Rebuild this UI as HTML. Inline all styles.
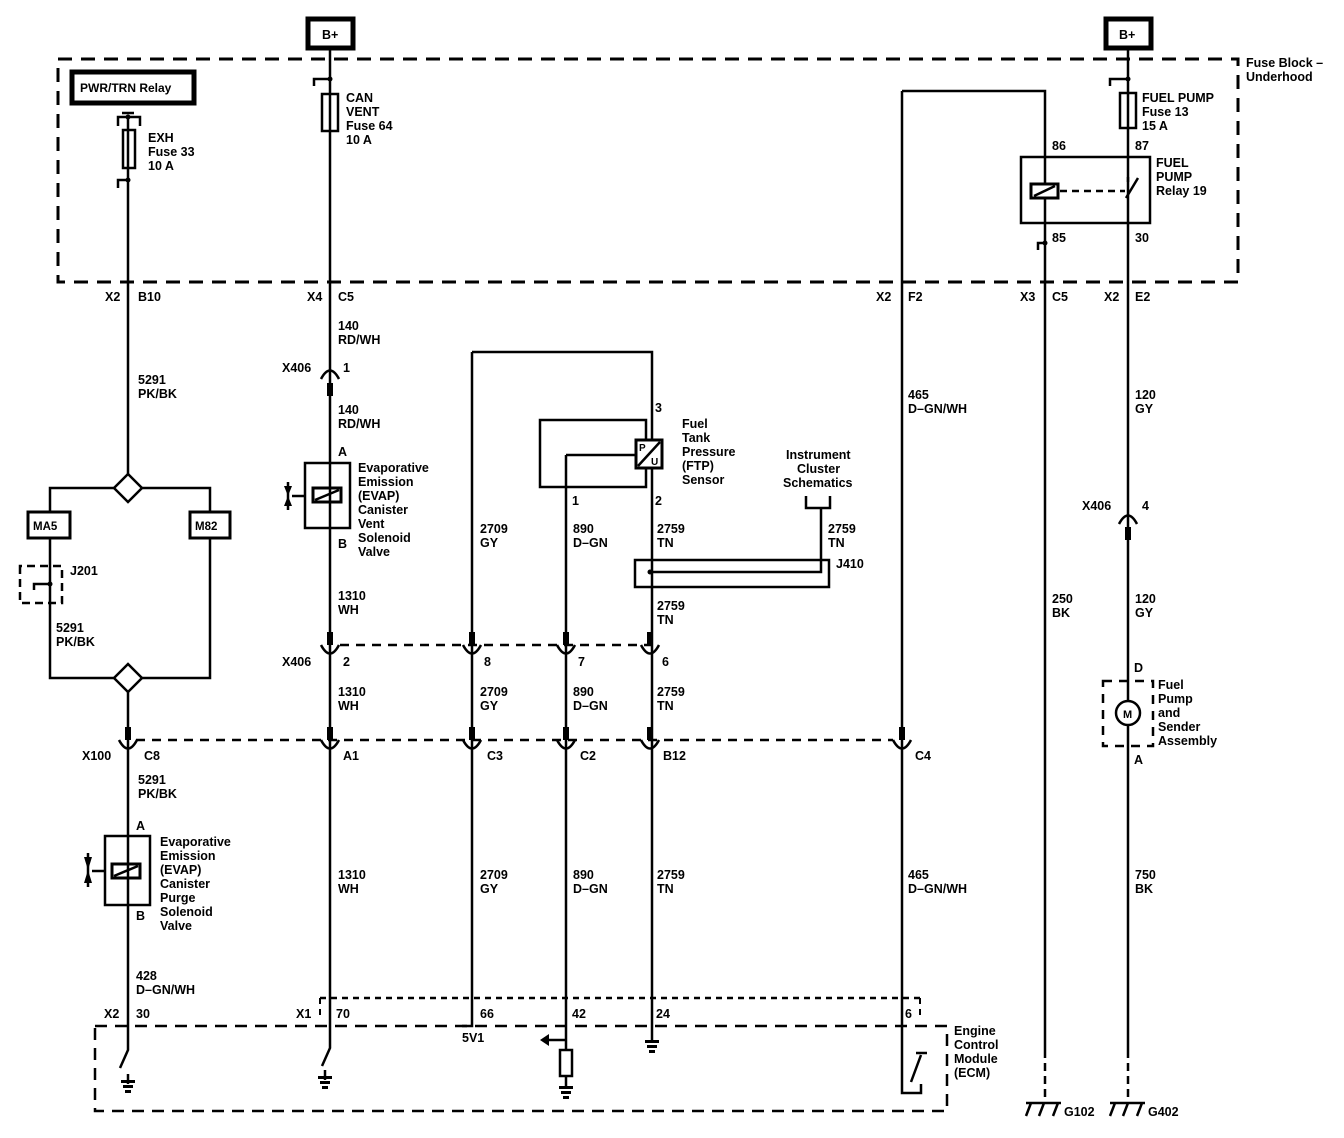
<!DOCTYPE html>
<html><head><meta charset="utf-8"><style>
html,body{margin:0;padding:0;background:#fff}
svg{display:block}
text{font-family:"Liberation Sans",sans-serif;font-size:12.5px;font-weight:bold;fill:#000}
</style></head><body>
<svg width="1344" height="1138" viewBox="0 0 1344 1138" xmlns="http://www.w3.org/2000/svg">
<g fill="none" stroke="#000" stroke-width="2.5">
<path d="M58 59 H1238 V282 H58 Z" stroke-dasharray="14,9" stroke-width="3"/>
<path d="M95 1026 H947 V1111 H95 Z" stroke-dasharray="12,8" stroke-width="2.5"/>
<path d="M320 998 H920" stroke-dasharray="6,5" stroke-width="2.5"/>
<path d="M320 998 V1020 M920 998 V1020" stroke-dasharray="6,5" stroke-width="2"/>
<path d="M340 645 H655" stroke-dasharray="9,7"/>
<path d="M136 740 H893" stroke-dasharray="9,7"/>
</g>
<rect x="308" y="19" width="45" height="29" fill="#fff" stroke="#000" stroke-width="5"/>
<text x="322" y="39">B+</text>
<rect x="1106" y="19" width="45" height="29" fill="#fff" stroke="#000" stroke-width="5"/>
<text x="1119" y="39">B+</text>
<rect x="72" y="72" width="122" height="31" fill="#fff" stroke="#000" stroke-width="5"/>
<text x="80" y="92" style="font-size:12px">PWR/TRN Relay</text>
<g fill="none" stroke="#000" stroke-width="2.5">
<path d="M128 117 V474 M128 692 V1050 L120 1068"/>
<path d="M128 1074 V1084"/>
<path d="M330 48 V1048 L322 1066"/>
<path d="M325 1070 V1080"/>
<path d="M472 352 V1026 H462 M472 352 H652 V1040"/>
<path d="M566 455 H636 M566 455 V1050 M566 1076 V1086"/>
<path d="M902 91 H1045 V1050 M902 91 V1093 H921 V1084"/>
<path d="M911 1082 L921 1055 M916 1053 H927"/>
<path d="M1045 1050 V1100" stroke-dasharray="8,5"/>
<path d="M1128 48 V1050"/>
<path d="M1128 1050 V1100" stroke-dasharray="8,5"/>
<rect x="123" y="130" width="12" height="38"/>
<path d="M118 126 V117 H140 V126 M122 113 H134"/>
<path d="M118 188 V180 H128"/>
<rect x="322" y="94" width="16" height="37"/>
<path d="M314 86 V79 H330"/>
<rect x="1120" y="93" width="16" height="35"/>
<path d="M1110 86 V79 H1128"/>
<rect x="1021" y="157" width="129" height="66"/>
<path d="M1038 250 V243 H1045"/>
<path d="M1060 191 H1125" stroke-dasharray="7,5"/>
<path d="M1128 177 V182 M1126 198 L1138 178"/>
<rect x="1031" y="184" width="27" height="14" fill="#fff" stroke-width="3"/>
<path d="M1034 196 L1055 186"/>
<path d="M128 474 L142 488 L128 502 L114 488 Z"/>
<path d="M128 664 L142 678 L128 692 L114 678 Z"/>
<path d="M114 488 H50 V678 H114 M142 488 H210 V678 H142"/>
<rect x="28" y="512" width="42" height="26" fill="#fff" stroke-width="3"/>
<rect x="190" y="512" width="40" height="26" fill="#fff" stroke-width="3"/>
<path d="M20 566 V603 H62 V566 Z" stroke-dasharray="8,5"/>
<path d="M34 590 V584 H50"/>
<rect x="540" y="420" width="106" height="67"/>
<rect x="636" y="440" width="26" height="28" fill="#fff" stroke-width="3"/>
<path d="M638 466 L660 442"/>
<rect x="635" y="560" width="194" height="27"/>
<path d="M650 572 H821 V508 M806 496 V508 H830 V496"/>
<rect x="305" y="463" width="45" height="65"/>
<rect x="313" y="488" width="28" height="14" stroke-width="3"/>
<path d="M315 500 L339 490"/>
<path d="M288 482 V510 M292 496 H305"/>
<rect x="105" y="836" width="45" height="69"/>
<rect x="112" y="864" width="28" height="14" stroke-width="3"/>
<path d="M114 876 L138 866"/>
<path d="M88 853 V887 M92 871 H105"/>
<path d="M1103 681 H1153 V746 H1103 Z" stroke-dasharray="9,7"/>
<circle cx="1128" cy="713" r="12" fill="#fff" stroke-width="2.5"/>
<rect x="560" y="1050" width="12" height="26"/>
<path d="M566 1040 H548"/>
<path d="M1026 1103 H1061 M1031 1103 L1026 1116 M1044 1103 L1039 1116 M1058 1103 L1053 1116"/>
<path d="M1110 1103 H1145 M1115 1103 L1110 1116 M1128 1103 L1123 1116 M1142 1103 L1137 1116"/>
</g>
<g fill="#000">
<polygon points="284,486 292,486 288,496"/><polygon points="284,506 292,506 288,496"/>
<polygon points="84,857 92,857 88,870"/><polygon points="84,883 92,883 88,870"/>
<polygon points="540,1040 549,1034 549,1046"/>
<circle cx="128" cy="180" r="2.5"/><circle cx="330" cy="79" r="2.5"/><circle cx="1128" cy="79" r="2.5"/><circle cx="1045" cy="243" r="2.5"/><circle cx="50" cy="584" r="2.5"/><circle cx="650" cy="572" r="2.5"/><circle cx="128" cy="117" r="2.5"/>
<rect x="121" y="1080" width="14" height="3"/><rect x="123" y="1085" width="10" height="3"/><rect x="125" y="1090" width="6" height="3"/>
<rect x="318" y="1076" width="14" height="3"/><rect x="320" y="1081" width="10" height="3"/><rect x="322" y="1086" width="6" height="3"/>
<rect x="559" y="1086" width="14" height="3"/><rect x="561" y="1091" width="10" height="3"/><rect x="563" y="1096" width="6" height="3"/>
<rect x="645" y="1040" width="14" height="3"/><rect x="647" y="1045" width="10" height="3"/><rect x="649" y="1050" width="6" height="3"/>
<rect x="327" y="383" width="6" height="13"/><rect x="1125" y="527" width="6" height="13"/>
<rect x="327" y="632" width="6" height="13"/><rect x="469" y="632" width="6" height="13"/><rect x="563" y="632" width="6" height="13"/><rect x="647" y="632" width="6" height="13"/>
<rect x="125" y="727" width="6" height="13"/><rect x="327" y="727" width="6" height="13"/><rect x="469" y="727" width="6" height="13"/><rect x="563" y="727" width="6" height="13"/><rect x="647" y="727" width="6" height="13"/><rect x="899" y="727" width="6" height="13"/>
</g>
<g fill="none" stroke="#000" stroke-width="2.5">
<path d="M321 379 Q330 362 339 379"/><path d="M1119 524 Q1128 507 1137 524"/>
<path d="M321 645 Q330 662 339 645"/><path d="M463 645 Q472 662 481 645"/><path d="M557 645 Q566 662 575 645"/><path d="M641 645 Q650 662 659 645"/>
<path d="M119 740 Q128 757 137 740"/><path d="M321 740 Q330 757 339 740"/><path d="M463 740 Q472 757 481 740"/><path d="M557 740 Q566 757 575 740"/><path d="M641 740 Q650 757 659 740"/><path d="M893 740 Q902 757 911 740"/>
</g>
<text x="148" y="142">EXH</text><text x="148" y="156">Fuse 33</text><text x="148" y="170">10 A</text>
<text x="346" y="102">CAN</text><text x="346" y="116">VENT</text><text x="346" y="130">Fuse 64</text><text x="346" y="144">10 A</text>
<text x="1142" y="102">FUEL PUMP</text><text x="1142" y="116">Fuse 13</text><text x="1142" y="130">15 A</text>
<text x="1052" y="150">86</text><text x="1135" y="150">87</text><text x="1052" y="242">85</text><text x="1135" y="242">30</text>
<text x="1156" y="167">FUEL</text><text x="1156" y="181">PUMP</text><text x="1156" y="195">Relay 19</text>
<text x="1246" y="67">Fuse Block –</text><text x="1246" y="81">Underhood</text>
<text x="105" y="301">X2</text><text x="138" y="301">B10</text>
<text x="307" y="301">X4</text><text x="338" y="301">C5</text>
<text x="876" y="301">X2</text><text x="908" y="301">F2</text>
<text x="1020" y="301">X3</text><text x="1052" y="301">C5</text>
<text x="1104" y="301">X2</text><text x="1135" y="301">E2</text>
<text x="338" y="330">140</text><text x="338" y="344">RD/WH</text>
<text x="282" y="372">X406</text><text x="343" y="372">1</text>
<text x="338" y="414">140</text><text x="338" y="428">RD/WH</text>
<text x="338" y="456">A</text><text x="338" y="548">B</text>
<text x="358" y="472">Evaporative</text><text x="358" y="486">Emission</text><text x="358" y="500">(EVAP)</text><text x="358" y="514">Canister</text><text x="358" y="528">Vent</text><text x="358" y="542">Solenoid</text><text x="358" y="556">Valve</text>
<text x="138" y="384">5291</text><text x="138" y="398">PK/BK</text>
<text x="33" y="530" style="font-size:11.5px">MA5</text><text x="195" y="530" style="font-size:11.5px">M82</text>
<text x="70" y="575">J201</text>
<text x="56" y="632">5291</text><text x="56" y="646">PK/BK</text>
<text x="338" y="600">1310</text><text x="338" y="614">WH</text>
<text x="282" y="666">X406</text><text x="343" y="666">2</text>
<text x="484" y="666">8</text><text x="578" y="666">7</text><text x="662" y="666">6</text>
<text x="338" y="696">1310</text><text x="338" y="710">WH</text>
<text x="480" y="696">2709</text><text x="480" y="710">GY</text>
<text x="573" y="696">890</text><text x="573" y="710">D–GN</text>
<text x="657" y="696">2759</text><text x="657" y="710">TN</text>
<text x="82" y="760">X100</text><text x="144" y="760">C8</text>
<text x="343" y="760">A1</text><text x="487" y="760">C3</text><text x="580" y="760">C2</text><text x="663" y="760">B12</text><text x="915" y="760">C4</text>
<text x="138" y="784">5291</text><text x="138" y="798">PK/BK</text>
<text x="136" y="830">A</text><text x="136" y="920">B</text>
<text x="160" y="846">Evaporative</text><text x="160" y="860">Emission</text><text x="160" y="874">(EVAP)</text><text x="160" y="888">Canister</text><text x="160" y="902">Purge</text><text x="160" y="916">Solenoid</text><text x="160" y="930">Valve</text>
<text x="338" y="879">1310</text><text x="338" y="893">WH</text>
<text x="480" y="879">2709</text><text x="480" y="893">GY</text>
<text x="573" y="879">890</text><text x="573" y="893">D–GN</text>
<text x="657" y="879">2759</text><text x="657" y="893">TN</text>
<text x="908" y="879">465</text><text x="908" y="893">D–GN/WH</text>
<text x="1135" y="879">750</text><text x="1135" y="893">BK</text>
<text x="136" y="980">428</text><text x="136" y="994">D–GN/WH</text>
<text x="104" y="1018">X2</text><text x="136" y="1018">30</text>
<text x="296" y="1018">X1</text><text x="336" y="1018">70</text>
<text x="480" y="1018">66</text><text x="572" y="1018">42</text><text x="656" y="1018">24</text><text x="905" y="1018">6</text>
<text x="462" y="1042">5V1</text>
<text x="954" y="1035">Engine</text><text x="954" y="1049">Control</text><text x="954" y="1063">Module</text><text x="954" y="1077">(ECM)</text>
<text x="1064" y="1116">G102</text><text x="1148" y="1116">G402</text>
<text x="655" y="412">3</text><text x="572" y="505">1</text><text x="655" y="505">2</text>
<text x="682" y="428">Fuel</text><text x="682" y="442">Tank</text><text x="682" y="456">Pressure</text><text x="682" y="470">(FTP)</text><text x="682" y="484">Sensor</text>
<text x="639" y="451" style="font-size:10px">P</text><text x="651" y="465" style="font-size:10px">U</text>
<text x="786" y="459">Instrument</text><text x="797" y="473">Cluster</text><text x="783" y="487">Schematics</text>
<text x="480" y="533">2709</text><text x="480" y="547">GY</text>
<text x="573" y="533">890</text><text x="573" y="547">D–GN</text>
<text x="657" y="533">2759</text><text x="657" y="547">TN</text>
<text x="828" y="533">2759</text><text x="828" y="547">TN</text>
<text x="836" y="568">J410</text>
<text x="657" y="610">2759</text><text x="657" y="624">TN</text>
<text x="908" y="399">465</text><text x="908" y="413">D–GN/WH</text>
<text x="1052" y="603">250</text><text x="1052" y="617">BK</text>
<text x="1135" y="399">120</text><text x="1135" y="413">GY</text>
<text x="1082" y="510">X406</text><text x="1142" y="510">4</text>
<text x="1135" y="603">120</text><text x="1135" y="617">GY</text>
<text x="1134" y="672">D</text><text x="1134" y="764">A</text>
<text x="1123" y="718" style="font-size:11px">M</text>
<text x="1158" y="689">Fuel</text><text x="1158" y="703">Pump</text><text x="1158" y="717">and</text><text x="1158" y="731">Sender</text><text x="1158" y="745">Assembly</text>
</svg>
</body></html>
